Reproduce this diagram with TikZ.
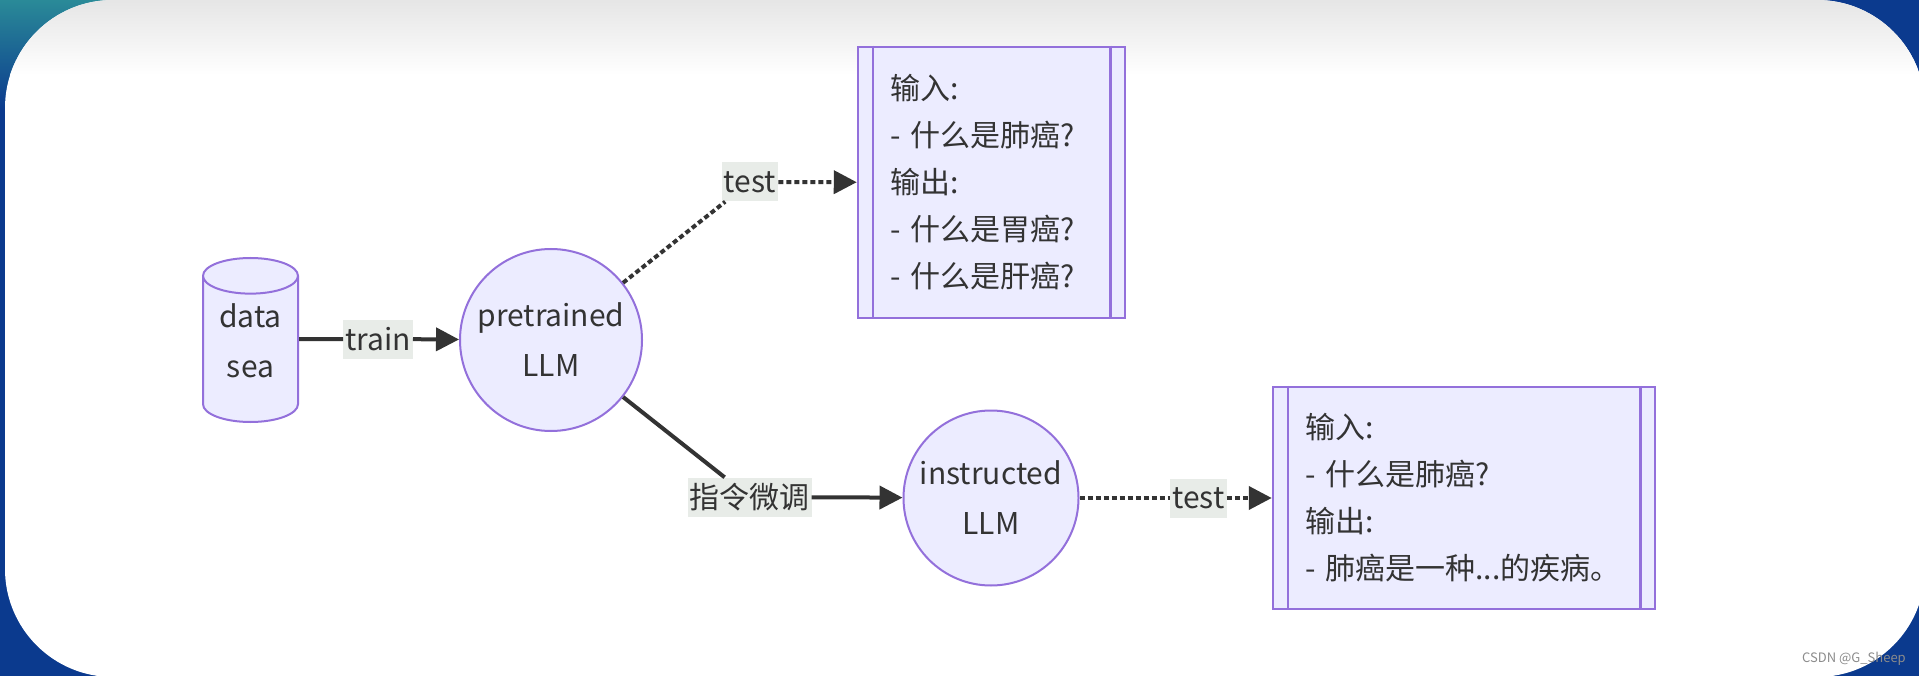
\documentclass[tikz,border=0pt]{standalone}
\usepackage{fontspec}
\newfontfamily\cjk{Noto Sans CJK SC}
\usepackage{tikz}
\usetikzlibrary{shapes.geometric, arrows.meta, positioning}
\usepackage{xcolor}
\definecolor{nodefill}{HTML}{ECECFF}
\definecolor{nodeline}{HTML}{9370DB}
\definecolor{edgeink}{HTML}{333333}
\definecolor{labelbg}{HTML}{E8ECE8}
\definecolor{slideblue}{HTML}{0B3A8E}
\definecolor{slideteal}{HTML}{2A8A98}
\definecolor{markgray}{HTML}{8C8C8C}
\tikzset{
  llm/.style={circle, draw=nodeline, line width=2pt, fill=nodefill,
              align=center, text=edgeink, inner sep=0pt},
  store/.style={cylinder, shape border rotate=90, aspect=0.57,
                draw=nodeline, line width=2pt, fill=nodefill,
                align=center, text=edgeink, inner sep=0pt,
                minimum width=95pt, minimum height=164pt},
  sample/.style={rectangle, draw=nodeline, line width=2.5pt, fill=nodefill,
                 align=left, text=edgeink, inner xsep=32pt, inner ysep=0pt,
                 font=\cjk\fontsize{30}{47}\selectfont},
  edgelabel/.style={fill=labelbg, text=edgeink, inner xsep=2pt,
                    inner ysep=0pt, minimum height=39pt},
  solidarrow/.style={draw=edgeink, line width=4pt,
                     -{Triangle[length=23pt, width=23pt]}},
  dotarrow/.style={draw=edgeink, line width=4pt, dash pattern=on 5pt off 3pt,
                   -{Triangle[length=23pt, width=23pt]}},
}
\begin{document}
\begin{tikzpicture}[x=1pt, y=-1pt, font=\cjk\fontsize{30}{50}\selectfont]

  %% -- Slide background -----------------------------------------------------
  \useasboundingbox (0,0) rectangle (1919,676);
  \fill[slideblue] (0,0) rectangle (1919,676);
  \shade[top color=slideteal, bottom color=slideblue] (0,0) rectangle (140,110);
  \fill[white, rounded corners=108pt] (5,0) rectangle (1925,677);
  \begin{scope}
    \clip[rounded corners=108pt] (5,0) rectangle (1925,677);
    \shade[top color=black!10, bottom color=white] (0,0) rectangle (1919,75);
  \end{scope}

  %% -- Nodes ----------------------------------------------------------------
  \node[store, anchor=shape center, text depth=17pt] (data) at (250.5,340) {data\\sea};
  \node[llm, minimum size=182pt] (pre)  at (551,340) {pretrained\\LLM};
  \node[llm, minimum size=175pt] (inst) at (991,498) {instructed\\LLM};
  \node[sample, text width=203pt, minimum height=271pt] (box1) at (991.5,182.5)
    {输入:\\- 什么是肺癌?\\输出:\\- 什么是胃癌?\\- 什么是肝癌?};
  \node[sample, text width=318pt, minimum height=222pt] (box2) at (1464,498)
    {输入:\\- 什么是肺癌?\\输出:\\- 肺癌是一种...的疾病。};

  %% double side bars of the sample boxes
  \foreach \b in {box1, box2} {
    \draw[nodeline, line width=2.5pt] ([xshift=16pt]\b.north west) -- ([xshift=16pt]\b.south west);
    \draw[nodeline, line width=2.5pt] ([xshift=-16pt]\b.north east) -- ([xshift=-16pt]\b.south east);
  }

  %% -- Edge labels ----------------------------------------------------------
  \node[edgelabel] (train) at (378,339)    {train};
  \node[edgelabel] (test1) at (750,182)    {test};
  \node[edgelabel] (tune)  at (749.5,497)  {指令微调};
  \node[edgelabel] (test2) at (1198.5,498) {test};

  %% -- Connectors -----------------------------------------------------------
  \draw[solidarrow] (data.east |- train) -- (train) -- (pre);
  \draw[dotarrow]   (pre)  -- (test1) -- (box1);
  \draw[solidarrow] (pre)  -- (tune)  -- (inst);
  \draw[dotarrow]   (inst) -- (test2) -- (box2);

  %% -- Watermark ------------------------------------------------------------
  \node[text=markgray, font=\cjk\fontsize{13}{15}\selectfont] (mark) at (1854,659) {CSDN @G\_Sheep};

\end{tikzpicture}
\end{document}
